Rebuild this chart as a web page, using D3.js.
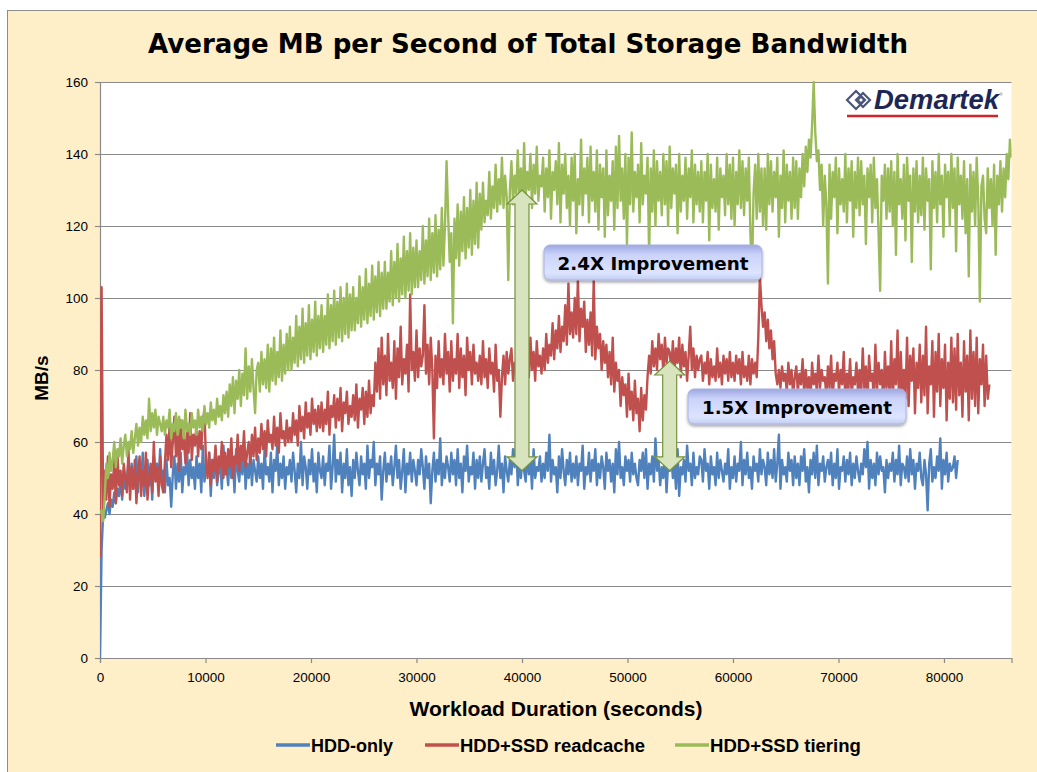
<!DOCTYPE html>
<html>
<head>
<meta charset="utf-8">
<script src="https://cdn.jsdelivr.net/npm/d3@7"></script>
<style>
	body { margin: 0; background: #fff; }
	svg { display: block; }
</style>
</head>
<body>
<svg id="chart" width="1037" height="772"></svg>
<script>
const STEP = 150; // seconds between samples

const seriesNames = ["HDD-only", "HDD+SSD readcache", "HDD+SSD tiering"];
const seriesColors = ["#4F81BD", "#C0504D", "#9BBB59"];

const xTicks = [0, 10000, 20000, 30000, 40000, 50000, 60000, 70000, 80000];
const yTicks = [0, 20, 40, 60, 80, 100, 120, 140, 160];

// one row = 3000 seconds
const hddOnly = [
	0, 30, 40, 39, 41, 43, 40, 44, 42, 46, 43, 47, 45, 50, 44, 52, 47, 49, 55, 48,
	54, 47, 52, 56, 46, 53, 49, 57, 45, 51, 55, 48, 53, 44, 56, 50, 54, 47, 58, 49,
	52, 46, 55, 48, 50, 42, 51, 56, 47, 54, 49, 57, 46, 53, 51, 58, 48, 55, 50, 53,
	47, 56, 50, 54, 46, 59, 49, 53, 51, 57, 45, 55, 50, 58, 48, 52, 54, 47, 59, 51,
	53, 48, 57, 50, 55, 46, 58, 52, 49, 56, 51, 60, 47, 54, 50, 57, 48, 55, 52, 49,
	56, 50, 54, 47, 58, 51, 53, 49, 57, 46, 55, 52, 59, 48, 54, 50, 56, 47, 53, 51,
	55, 49, 57, 52, 46, 54, 50, 60, 48, 56, 53, 47, 55, 51, 58, 49, 54, 46, 57, 52,
	50, 56, 48, 54, 52, 59, 47, 53, 62, 49, 55, 51, 57, 46, 54, 50, 58, 48, 53, 45,
	55, 50, 57, 52, 48, 56, 51, 54, 47, 59, 50, 55, 53, 60, 48, 54, 51, 56, 44, 52,
	57, 49, 54, 51, 56, 48, 53, 59, 50, 55, 47, 52, 58, 46, 54, 51, 57, 49, 55, 52,
	48, 55, 51, 58, 53, 47, 56, 50, 54, 43, 52, 57, 49, 55, 51, 61, 48, 54, 50, 56,
	53, 49, 57, 51, 55, 48, 58, 50, 54, 46, 56, 52, 59, 49, 53, 51, 57, 47, 55, 50,
	56, 49, 54, 58, 50, 53, 47, 57, 51, 55, 48, 52, 59, 50, 54, 46, 56, 52, 49, 55,
	51, 58, 53, 60, 48, 54, 50, 56, 52, 49, 57, 51, 55, 47, 58, 50, 53, 52, 56, 49,
	54, 50, 57, 52, 62, 49, 55, 51, 53, 46, 56, 50, 58, 52, 48, 55, 51, 57, 49, 54,
	50, 56, 48, 54, 52, 59, 47, 53, 51, 57, 49, 55, 52, 58, 48, 54, 50, 56, 53, 47,
	57, 52, 55, 49, 54, 46, 58, 51, 60, 50, 53, 48, 56, 52, 55, 49, 57, 51, 54, 50,
	48, 55, 52, 57, 50, 58, 47, 54, 51, 56, 49, 61, 52, 55, 48, 53, 50, 57, 46, 54,
	52, 56, 50, 54, 47, 58, 45, 53, 51, 55, 49, 59, 52, 54, 48, 57, 50, 53, 51, 56,
	55, 49, 58, 52, 54, 47, 56, 51, 53, 48, 57, 50, 55, 52, 49, 54, 51, 58, 47, 53,
	50, 56, 49, 54, 52, 60, 48, 55, 51, 57, 50, 53, 47, 56, 52, 54, 49, 58, 51, 55,
	53, 48, 57, 51, 55, 50, 58, 49, 54, 62, 47, 55, 51, 53, 49, 57, 52, 55, 48, 56,
	50, 54, 48, 56, 52, 58, 49, 53, 46, 55, 51, 57, 50, 59, 48, 54, 52, 56, 49, 53,
	55, 51, 57, 48, 54, 50, 58, 47, 53, 52, 56, 49, 55, 51, 57, 48, 54, 50, 56, 52,
	49, 54, 51, 58, 53, 60, 47, 55, 50, 54, 48, 57, 51, 56, 52, 53, 46, 55, 50, 54,
	52, 57, 49, 55, 51, 59, 48, 54, 53, 50, 56, 49, 58, 51, 55, 47, 54, 52, 57, 50,
	48, 55, 51, 41, 54, 58, 49, 53, 50, 56, 52, 61, 47, 55, 51, 57, 49, 54, 52, 53,
	56, 50, 55
];

const readCache = [
	28, 103, 40, 52, 44, 56, 42, 51, 47, 55, 43, 57, 48, 52, 45, 54, 50, 46, 58, 44,
	53, 47, 55, 43, 51, 56, 45, 52, 48, 57, 44, 50, 54, 46, 60, 49, 53, 45, 56, 48,
	46, 54, 62, 55, 65, 53, 60, 67, 56, 63, 52, 66, 58, 61, 54, 64, 57, 68, 55, 62,
	59, 65, 56, 63, 58, 66, 69, 54, 50, 57, 48, 55, 52, 59, 49, 56, 53, 60, 50, 57,
	51, 58, 53, 61, 50, 56, 54, 62, 52, 59, 55, 63, 53, 57, 60, 54, 62, 56, 64, 55,
	61, 57, 65, 58, 63, 56, 66, 60, 62, 58, 67, 59, 64, 57, 68, 61, 63, 59, 66, 60,
	64, 60, 68, 62, 66, 59, 70, 63, 67, 61, 71, 64, 68, 62, 72, 65, 69, 63, 70, 64,
	71, 63, 69, 65, 74, 62, 70, 67, 73, 64, 72, 66, 75, 63, 71, 68, 74, 65, 70, 67,
	73, 66, 76, 64, 72, 69, 75, 65, 74, 67, 77, 68, 73, 70, 82, 74, 86, 72, 89, 76,
	84, 73, 90, 77, 82, 75, 88, 72, 86, 78, 92, 76, 83, 79, 87, 74, 101, 80, 85, 77,
	91, 78, 86, 81, 84, 98, 79, 87, 76, 89, 80, 61, 84, 75, 88, 78, 83, 76, 90, 79,
	85, 74, 88, 77, 83, 79, 90, 75, 86, 78, 84, 73, 89, 80, 85, 76, 87, 79, 82, 77,
	84, 76, 88, 78, 83, 75, 86, 79, 82, 74, 87, 77, 80, 67, 78, 84, 76, 85, 79, 83,
	86, 77, 82, 79, 88, 75, 84, 80, 87, 76, 83, 78, 89, 80, 85, 77, 88, 81, 84, 79,
	86, 80, 90, 82, 87, 84, 93, 83, 91, 86, 95, 85, 92, 88, 98, 87, 104, 90, 96, 89,
	100, 90, 105, 88, 97, 92, 99, 85, 94, 87, 96, 84, 105, 83, 92, 86, 90, 80, 88, 82,
	87, 78, 85, 76, 89, 74, 82, 77, 80, 70, 78, 73, 76, 67, 79, 69, 74, 66, 77, 68,
	72, 63, 75, 66, 73, 69, 78, 84, 79, 88, 81, 86, 80, 90, 83, 87, 79, 89, 82, 86,
	85, 80, 88, 79, 86, 82, 89, 78, 87, 81, 85, 77, 84, 92, 80, 86, 78, 84, 80, 83,
	84, 77, 82, 79, 85, 76, 83, 78, 81, 77, 86, 78, 82, 76, 84, 79, 83, 77, 85, 78,
	82, 77, 84, 79, 83, 76, 85, 78, 81, 77, 84, 76, 83, 79, 82, 78, 89, 106, 98, 92,
	96, 88, 94, 86, 91, 83, 88, 79, 76, 80, 75, 81, 77, 79, 74, 82, 76, 80, 73, 78,
	81, 74, 79, 76, 83, 73, 80, 75, 78, 72, 82, 76, 79, 74, 84, 75, 80, 77, 78, 73,
	81, 75, 84, 72, 79, 77, 82, 74, 80, 76, 85, 71, 79, 75, 83, 73, 78, 76, 82, 74,
	80, 73, 86, 75, 81, 71, 84, 77, 79, 72, 87, 74, 82, 76, 80, 70, 85, 75, 81, 73,
	88, 71, 83, 76, 91, 69, 85, 74, 80, 72, 89, 70, 84, 77, 86, 68, 82, 75, 87, 71,
	84, 73, 92, 68, 81, 76, 88, 67, 85, 74, 90, 70, 83, 75, 87, 66, 82, 72, 89, 71,
	86, 69, 90, 73, 82, 67, 88, 74, 84, 66, 91, 72, 85, 70, 89, 68, 83, 76, 87, 70,
	84, 72, 76
];

const tiering = [
	40, 41, 38, 45, 54, 50, 57, 52, 55, 60, 53, 58, 56, 61, 54, 59, 62, 56, 60, 58,
	63, 57, 61, 65, 59, 64, 60, 67, 62, 66, 61, 72, 63, 68, 64, 69, 62, 67, 65, 63,
	67, 62, 66, 64, 69, 61, 65, 63, 68, 62, 67, 64, 66, 61, 69, 63, 65, 62, 68, 64,
	66, 62, 69, 64, 67, 63, 70, 65, 68, 64, 71, 66, 69, 65, 72, 67, 70, 66, 73, 68,
	74, 67, 76, 70, 78, 68, 77, 72, 80, 70, 79, 73, 86, 72, 81, 74, 83, 75, 68, 80,
	82, 74, 85, 76, 83, 75, 87, 74, 86, 77, 89, 76, 85, 78, 91, 77, 87, 79, 90, 80,
	92, 80, 89, 82, 95, 81, 92, 83, 97, 82, 93, 84, 98, 83, 94, 85, 99, 84, 95, 86,
	98, 85, 95, 87, 101, 86, 98, 88, 102, 87, 99, 89, 103, 88, 100, 90, 104, 89, 101, 91,
	103, 91, 100, 93, 106, 92, 103, 94, 108, 93, 104, 95, 109, 94, 106, 96, 110, 95, 107, 97,
	110, 97, 107, 99, 113, 98, 110, 100, 115, 99, 111, 101, 117, 100, 113, 102, 118, 101, 114, 103,
	116, 103, 113, 105, 120, 104, 116, 106, 122, 105, 118, 107, 123, 106, 119, 108, 125, 109, 120, 138,
	123, 110, 118, 93, 122, 111, 126, 109, 124, 113, 128, 111, 125, 114, 130, 112, 127, 115, 132, 114,
	129, 119, 132, 121, 127, 123, 135, 122, 131, 125, 137, 124, 133, 126, 139, 125, 134, 128, 105, 130,
	138, 126, 134, 129, 141, 127, 136, 124, 143, 128, 135, 130, 140, 125, 137, 129, 142, 127, 134, 131,
	139, 124, 136, 128, 141, 122, 135, 130, 138, 126, 143, 121, 137, 129, 140, 125, 134, 120, 139, 127,
	140, 118, 133, 126, 144, 123, 136, 129, 139, 121, 142, 127, 135, 124, 141, 119, 137, 128, 136, 117,
	141, 123, 134, 127, 138, 119, 142, 125, 145, 127, 136, 122, 140, 115, 139, 126, 146, 124, 135, 128,
	137, 121, 143, 126, 134, 129, 139, 112, 136, 124, 141, 120, 138, 127, 135, 123, 140, 126, 138, 120,
	142, 125, 136, 129, 137, 118, 140, 124, 134, 127, 139, 122, 136, 128, 141, 121, 137, 126, 135, 124,
	138, 121, 135, 127, 140, 116, 137, 125, 133, 124, 139, 119, 136, 128, 134, 123, 140, 126, 137, 122,
	139, 120, 135, 126, 141, 125, 138, 123, 136, 127, 139, 118, 107, 129, 137, 122, 140, 124, 136, 120,
	136, 119, 140, 126, 138, 124, 135, 128, 139, 117, 134, 125, 141, 121, 137, 127, 135, 122, 139, 125,
	138, 122, 136, 128, 140, 131, 142, 135, 144, 139, 148, 160, 146, 138, 141, 130, 137, 120, 134, 126,
	104, 137, 122, 135, 128, 139, 118, 136, 126, 133, 124, 140, 121, 136, 127, 138, 117, 135, 125, 139,
	123, 138, 126, 134, 115, 136, 128, 137, 121, 139, 125, 133, 118, 102, 134, 127, 137, 122, 136, 124,
	138, 120, 135, 112, 140, 126, 133, 122, 137, 116, 139, 127, 134, 110, 136, 124, 138, 121, 134, 123,
	139, 119, 136, 127, 133, 108, 138, 125, 135, 121, 140, 126, 134, 117, 137, 128, 135, 120, 140, 125,
	136, 113, 139, 126, 134, 122, 138, 118, 133, 106, 137, 124, 135, 120, 139, 127, 99, 131, 134, 122,
	118, 136, 125, 133, 120, 137, 112, 134, 126, 138, 124, 136, 128, 140, 133, 144, 139
];

// improvement arrows: time and MB/s span
const improveLabels = ["2.4X Improvement", "1.5X Improvement"];
const improveTimes = [40000, 54000];
const improveLow = [52, 52];
const improveHigh = [130, 82.5];

// ---- layout ----
const W = 1037, H = 772;
const plot = { left: 100, top: 82, right: 1011.5, bottom: 658 };
const labelBoxes = [
	{ x: 544, y: 245, w: 218, h: 35, textW: 191 },
	{ x: 688, y: 389, w: 218, h: 35, textW: 190 }
];

const svg = d3.select("#chart");
const defs = svg.append("defs");

function fitWidth(sel, target) {
	var size = parseFloat(sel.attr("font-size"));
	var len = sel.node().getComputedTextLength();
	sel.attr("font-size", (size * target / len).toFixed(2));
}

// chart area
svg.append("rect")
	.attr("x", 7.5).attr("y", 10.5)
	.attr("width", W).attr("height", H)
	.attr("fill", "#FFEFC9")
	.attr("stroke", "#8C8C8C");

svg.append("rect")
	.attr("x", plot.left).attr("y", plot.top)
	.attr("width", plot.right - plot.left).attr("height", plot.bottom - plot.top)
	.attr("fill", "#fff");

const x = d3.scaleLinear().domain([0, 86400]).range([plot.left, plot.right]);
const y = d3.scaleLinear().domain([0, 160]).range([plot.bottom, plot.top]);

// gridlines
svg.append("g")
	.attr("class", "grid")
	.attr("transform", "translate(" + plot.left + ",0)")
	.call(d3.axisLeft(y).tickValues(yTicks.slice(1)).tickSize(-(plot.right - plot.left)).tickFormat(""))
	.call(g => g.select(".domain").remove())
	.call(g => g.selectAll("line").attr("stroke", "#8A8A8A").attr("stroke-width", 1.2));

// axes
const yAxis = svg.append("g")
	.attr("transform", "translate(" + plot.left + ",0)")
	.call(d3.axisLeft(y).tickValues(yTicks).tickSize(5).tickPadding(7));
const xAxis = svg.append("g")
	.attr("transform", "translate(0," + plot.bottom + ")")
	.call(d3.axisBottom(x).tickValues(xTicks).tickSize(5).tickPadding(9).tickFormat(d3.format("d")));

[yAxis, xAxis].forEach(function(a) {
	a.selectAll(".domain, line").attr("stroke", "#8A8A8A").attr("stroke-width", 1.2);
	a.selectAll("text")
		.attr("fill", "#000")
		.attr("font-family", "'Liberation Sans', Arial, sans-serif")
		.attr("font-size", 13.5);
});

// series lines
defs.append("clipPath").attr("id", "plotClip")
	.append("rect")
	.attr("x", plot.left).attr("y", plot.top - 1)
	.attr("width", plot.right - plot.left).attr("height", plot.bottom - plot.top + 1);

const line = d3.line()
	.x((d, i) => x(i * STEP))
	.y(d => y(d));

const allSeries = [hddOnly, readCache, tiering];
svg.append("g")
	.attr("clip-path", "url(#plotClip)")
	.selectAll("path")
	.data(allSeries)
	.enter().append("path")
	.attr("d", line)
	.attr("fill", "none")
	.attr("stroke", (d, i) => seriesColors[i])
	.attr("stroke-width", 2.4)
	.attr("stroke-linejoin", "round");

// title and axis titles
const title = svg.append("text")
	.attr("x", 528).attr("y", 53)
	.attr("text-anchor", "middle")
	.attr("font-family", "'DejaVu Sans', Verdana, sans-serif")
	.attr("font-weight", "bold")
	.attr("font-size", 26)
	.text("Average MB per Second of Total Storage Bandwidth");
fitWidth(title, 760);

const xTitle = svg.append("text")
	.attr("x", 556).attr("y", 716)
	.attr("text-anchor", "middle")
	.attr("font-family", "'Liberation Sans Narrow', 'Arial Narrow', sans-serif")
	.attr("font-weight", "bold")
	.attr("font-size", 21)
	.text("Workload Duration (seconds)");
fitWidth(xTitle, 293);

svg.append("text")
	.attr("transform", "translate(48,378) rotate(-90)")
	.attr("text-anchor", "middle")
	.attr("font-family", "'Liberation Sans', Arial, sans-serif")
	.attr("font-weight", "bold")
	.attr("font-size", 19)
	.text("MB/s");

// legend
const legendTargets = [82, 185, 151];
const legendLineX = [276, 425, 675];
seriesNames.forEach(function(name, i) {
	var g = svg.append("g");
	g.append("line")
		.attr("x1", legendLineX[i]).attr("x2", legendLineX[i] + 34)
		.attr("y1", 745).attr("y2", 745)
		.attr("stroke", seriesColors[i])
		.attr("stroke-width", 3.5);
	var t = g.append("text")
		.attr("x", legendLineX[i] + 35).attr("y", 752)
		.attr("font-family", "'Liberation Sans Narrow', 'Arial Narrow', sans-serif")
		.attr("font-weight", "bold")
		.attr("font-size", 20)
		.text(name);
	fitWidth(t, legendTargets[i]);
});

// improvement arrows
function arrowPath(cx, yTop, yBot) {
	var hw = 15, sw = 7, hl = 14;
	return "M" + cx + "," + yTop +
		"L" + (cx + hw) + "," + (yTop + hl) + "L" + (cx + sw) + "," + (yTop + hl) +
		"L" + (cx + sw) + "," + (yBot - hl) + "L" + (cx + hw) + "," + (yBot - hl) +
		"L" + cx + "," + yBot +
		"L" + (cx - hw) + "," + (yBot - hl) + "L" + (cx - sw) + "," + (yBot - hl) +
		"L" + (cx - sw) + "," + (yTop + hl) + "L" + (cx - hw) + "," + (yTop + hl) + "Z";
}

svg.append("g")
	.selectAll("path")
	.data(improveTimes)
	.enter().append("path")
	.attr("d", (d, i) => arrowPath(x(d), y(improveHigh[i]), y(improveLow[i])))
	.attr("fill", "#D7E4BD")
	.attr("stroke", "#76923C")
	.attr("stroke-width", 1.2);

// label boxes
const grad = defs.append("linearGradient").attr("id", "boxGrad")
	.attr("x1", 0).attr("y1", 0).attr("x2", 0).attr("y2", 1);
grad.append("stop").attr("offset", "0%").attr("stop-color", "#9DA6E0");
grad.append("stop").attr("offset", "28%").attr("stop-color", "#CBD3FA");
grad.append("stop").attr("offset", "80%").attr("stop-color", "#DCE4FF");
grad.append("stop").attr("offset", "100%").attr("stop-color", "#C3CEF2");

const shadow = defs.append("filter").attr("id", "boxShadow")
	.attr("x", "-10%").attr("y", "-20%").attr("width", "120%").attr("height", "160%");
shadow.append("feDropShadow")
	.attr("dx", 0).attr("dy", 2).attr("stdDeviation", 1.5)
	.attr("flood-color", "#000").attr("flood-opacity", 0.35);

improveLabels.forEach(function(label, i) {
	var b = labelBoxes[i];
	svg.append("rect")
		.attr("x", b.x).attr("y", b.y)
		.attr("width", b.w).attr("height", b.h)
		.attr("rx", 6)
		.attr("fill", "url(#boxGrad)")
		.attr("stroke", "#A9B2E2")
		.attr("filter", "url(#boxShadow)");
	var t = svg.append("text")
		.attr("x", b.x + b.w / 2).attr("y", b.y + b.h / 2 + 7)
		.attr("text-anchor", "middle")
		.attr("font-family", "'DejaVu Sans', Verdana, sans-serif")
		.attr("font-weight", "bold")
		.attr("font-size", 18)
		.attr("fill", "#000")
		.text(label);
	fitWidth(t, b.textW);
});

// Demartek logo
const logo = svg.append("g").attr("transform", "translate(847,90)");
logo.append("path")
	.attr("d", "M0,10 L9,1 L18,10 L9,19 Z M9,10 L16,3 L23,10 L16,17 Z")
	.attr("fill", "none")
	.attr("stroke", "#4A5578")
	.attr("stroke-width", 2.2);
logo.append("path")
	.attr("d", "M11,10 L14,7 L17,10 L14,13 Z")
	.attr("fill", "none")
	.attr("stroke", "#4A5578")
	.attr("stroke-width", 1.5);
const logoText = logo.append("text")
	.attr("x", 27).attr("y", 19)
	.attr("font-family", "'Liberation Sans', Arial, sans-serif")
	.attr("font-weight", "bold")
	.attr("font-style", "italic")
	.attr("font-size", 25)
	.attr("fill", "#1C2755")
	.text("Demartek");
fitWidth(logoText, 125);
logo.append("circle").attr("cx", 154).attr("cy", 4).attr("r", 1.2).attr("fill", "none").attr("stroke", "#777").attr("stroke-width", 0.5);
logo.append("line")
	.attr("x1", 0).attr("x2", 151)
	.attr("y1", 26).attr("y2", 26)
	.attr("stroke", "#D2232A")
	.attr("stroke-width", 2.5);
</script>
</body>
</html>
